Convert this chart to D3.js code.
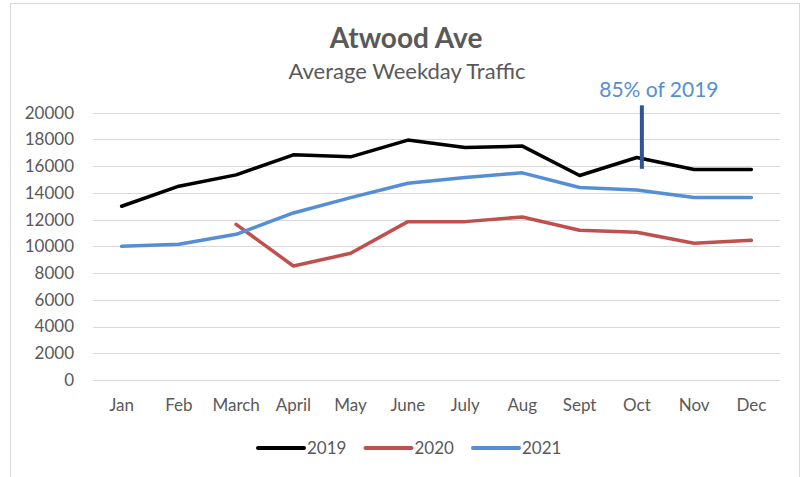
<!DOCTYPE html>
<html lang="en">
  <head>
    <meta charset="utf-8">
    <title>Atwood Ave</title>
    <script src="https://d3js.org/d3.v7.min.js"></script>
    <style>
      body { margin: 0; background: #fff; }
      text { font-family: Lato, "Open Sans", sans-serif; }
    </style>
  </head>

  <body>

  <script>

  // data
  var months = ["Jan", "Feb", "March", "April", "May", "June", "July", "Aug", "Sept", "Oct", "Nov", "Dec"];
  var years = ["2019", "2020", "2021"];
  var traffic2019 = [13000, 14500, 15350, 16850, 16700, 17950, 17400, 17500, 15300, 16650, 15750, 15750];
  var traffic2020 = [null, null, 11650, 8530, 9480, 11850, 11850, 12200, 11200, 11050, 10230, 10450];
  var traffic2021 = [10000, 10150, 10900, 12500, 13650, 14720, 15150, 15500, 14400, 14220, 13650, 13650];
  var yTicks = [0, 2000, 4000, 6000, 8000, 10000, 12000, 14000, 16000, 18000, 20000];
  var noteMonth = "Oct";
  var noteRange = [15800, 20550];
  var noteText = "85% of 2019";

  var colors = {"2019": "#000000", "2020": "#c0504d", "2021": "#558ed5"};
  var series = [
    {year: "2019", values: traffic2019},
    {year: "2020", values: traffic2020},
    {year: "2021", values: traffic2021}
  ];

  var w = 804;
  var h = 477;

  var svg = d3.select("body")
    .append("svg")
      .attr("width", w)
      .attr("height", h);

  // chart frame
  svg.append("rect")
      .attr("x", 10.5)
      .attr("y", 3.5)
      .attr("width", 789)
      .attr("height", 480)
      .attr("fill", "#fff")
      .attr("stroke", "#d9d9d9");

  var xScale = d3.scaleBand()
    .domain(months)
    .range([93, 780]);

  var yScale = d3.scaleLinear()
    .domain([0, 20000])
    .range([380, 112.7]);

  // gridlines
  svg.append("g")
    .selectAll("line")
    .data(yTicks)
    .enter().append("line")
      .attr("x1", 93)
      .attr("x2", 780)
      .attr("y1", d => Math.round(yScale(d)) + 0.5)
      .attr("y2", d => Math.round(yScale(d)) + 0.5)
      .attr("stroke", "#d9d9d9")
      .attr("stroke-width", 1);

  // y labels
  svg.append("g")
    .selectAll("text")
    .data(yTicks)
    .enter().append("text")
      .attr("x", 74)
      .attr("y", d => yScale(d))
      .attr("dy", "0.35em")
      .attr("text-anchor", "end")
      .attr("font-size", 17)
      .attr("fill", "#595959")
      .text(d => d);

  // x labels
  svg.append("g")
    .selectAll("text")
    .data(months)
    .enter().append("text")
      .attr("x", d => xScale(d) + xScale.bandwidth() / 2)
      .attr("y", 405)
      .attr("dy", "0.35em")
      .attr("text-anchor", "middle")
      .attr("font-size", 17)
      .attr("fill", "#595959")
      .text(d => d);

  var line = d3.line()
    .defined(d => d != null)
    .x((d, i) => xScale(months[i]) + xScale.bandwidth() / 2)
    .y(d => yScale(d));

  svg.append("g")
    .selectAll("path")
    .data(series)
    .enter().append("path")
      .attr("d", d => line(d.values))
      .attr("fill", "none")
      .attr("stroke", d => colors[d.year])
      .attr("stroke-width", 3.5)
      .attr("stroke-linejoin", "round")
      .attr("stroke-linecap", "round");

  // annotation
  var noteX = xScale(noteMonth) + xScale.bandwidth() / 2 + 5;
  svg.append("line")
      .attr("x1", noteX)
      .attr("x2", noteX)
      .attr("y1", yScale(noteRange[0]))
      .attr("y2", yScale(noteRange[1]))
      .attr("stroke", "#2f5597")
      .attr("stroke-width", 4);

  svg.append("text")
      .attr("x", noteX + 17)
      .attr("y", 97)
      .attr("text-anchor", "middle")
      .attr("font-size", 21)
      .attr("fill", "#558ed5")
      .text(noteText);

  // titles
  svg.append("text")
      .attr("x", 406)
      .attr("y", 48)
      .attr("text-anchor", "middle")
      .attr("font-size", 28)
      .attr("font-weight", "bold")
      .attr("fill", "#595959")
      .text("Atwood Ave");

  svg.append("text")
      .attr("x", 407)
      .attr("y", 79)
      .attr("text-anchor", "middle")
      .attr("font-size", 22)
      .attr("fill", "#595959")
      .text("Average Weekday Traffic");

  // legend
  var legendX = d3.scalePoint()
    .domain(years)
    .range([258, 473]);

  var legend = svg.append("g")
    .selectAll("g")
    .data(years)
    .enter().append("g")
      .attr("transform", d => "translate(" + legendX(d) + ",448)");

  legend.append("line")
      .attr("x1", 0)
      .attr("x2", 46)
      .attr("stroke", d => colors[d])
      .attr("stroke-width", 4)
      .attr("stroke-linecap", "round");

  legend.append("text")
      .attr("x", 49)
      .attr("dy", "0.35em")
      .attr("font-size", 17)
      .attr("fill", "#595959")
      .text(d => d);

  </script>

  </body>

</html>
